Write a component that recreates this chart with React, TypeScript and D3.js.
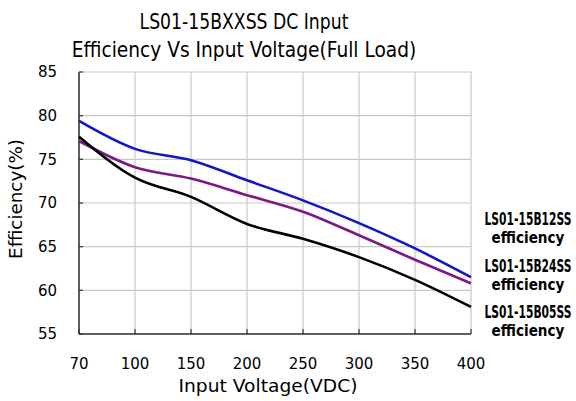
import React, { useEffect, useRef } from "react";
import * as d3 from "d3";

// x categories (equally spaced on the chart)
const voltages = ["70", "100", "150", "200", "250", "300", "350", "400"];
const yTicks = [55, 60, 65, 70, 75, 80, 85];

// efficiency (%)
const eff12 = [79.4, 76.2, 74.9, 72.6, 70.3, 67.7, 64.8, 61.5];
const eff24 = [77.1, 74.1, 72.8, 70.9, 69.0, 66.3, 63.5, 60.8];
const eff05 = [77.6, 72.9, 70.7, 67.6, 65.9, 63.8, 61.2, 58.1];

const seriesNames = ["LS01-15B12SS", "LS01-15B24SS", "LS01-15B05SS"];
const seriesColors = ["#1414c8", "#7a1a84", "#000000"];

const FONT = "'DejaVu Sans', sans-serif";

// put a centred text at (cx, cy) and squeeze it horizontally to the wanted width
function fitText(parent: any, str: string, cx: number, cy: number, width: number, size: number, rotate = 0, weight = "normal") {
  const gg = parent.append("g").attr("transform", `translate(${cx},${cy}) rotate(${rotate})`);
  const t = gg.append("text").attr("text-anchor", "middle")
    .attr("font-family", FONT).attr("font-size", size).attr("font-weight", weight).text(str);
  const len = (t.node() as SVGTextElement).getComputedTextLength() || width;
  t.attr("transform", `scale(${width / len},1)`);
  return t;
}

export default function App() {
  const ref = useRef<SVGSVGElement>(null);

  useEffect(() => {
    const svg = d3.select(ref.current);
    svg.selectAll("*").remove();

    const margin = { top: 72, left: 79, right: 105, bottom: 67 };
    const W = 576, H = 401;
    const w = W - margin.left - margin.right;
    const h = H - margin.top - margin.bottom;

    const x = d3.scalePoint<string>().domain(voltages).range([0, w]);
    const y = d3.scaleLinear().domain([55, 85]).range([h, 0]);

    const g = svg.append("g").attr("transform", `translate(${margin.left},${margin.top})`);

    // grid
    g.selectAll(".vgrid").data(voltages).join("line").attr("class", "vgrid")
      .attr("x1", d => x(d)!).attr("x2", d => x(d)!).attr("y1", 0).attr("y2", h)
      .attr("stroke", "#c8c8c8").attr("stroke-width", 1.2);
    g.selectAll(".hgrid").data(yTicks).join("line").attr("class", "hgrid")
      .attr("x1", 0).attr("x2", w).attr("y1", d => y(d)).attr("y2", d => y(d))
      .attr("stroke", "#c8c8c8").attr("stroke-width", 1.2);

    // axes
    g.append("line").attr("x1", 0).attr("x2", 0).attr("y1", 0).attr("y2", h)
      .attr("stroke", "#333").attr("stroke-width", 1.5);
    g.append("line").attr("x1", 0).attr("x2", w).attr("y1", h).attr("y2", h)
      .attr("stroke", "#333").attr("stroke-width", 1.5);
    g.selectAll(".ytick").data(yTicks).join("line").attr("class", "ytick")
      .attr("x1", 0).attr("x2", 4).attr("y1", d => y(d)).attr("y2", d => y(d))
      .attr("stroke", "#333").attr("stroke-width", 1.2);
    g.selectAll(".xtick").data(voltages).join("line").attr("class", "xtick")
      .attr("x1", d => x(d)!).attr("x2", d => x(d)!).attr("y1", h).attr("y2", h - 5)
      .attr("stroke", "#333").attr("stroke-width", 1.2);

    // tick labels
    g.selectAll(".ylab").data(yTicks).join("text").attr("class", "ylab")
      .attr("x", -22).attr("y", d => y(d)).attr("dy", "0.35em")
      .attr("text-anchor", "end").attr("font-family", FONT).attr("font-size", 15)
      .text(d => d);
    g.selectAll(".xlab").data(voltages).join("text").attr("class", "xlab")
      .attr("x", d => x(d)!).attr("y", h + 35)
      .attr("text-anchor", "middle").attr("font-family", FONT).attr("font-size", 15)
      .text(d => d);

    // lines
    const line = d3.line<number>()
      .x((_, i) => x(voltages[i])!)
      .y(d => y(d))
      .curve(d3.curveMonotoneX);
    [eff12, eff24, eff05].forEach((s, i) => {
      g.append("path").datum(s).attr("d", line).attr("fill", "none")
        .attr("stroke", seriesColors[i]).attr("stroke-width", 2.6)
        .attr("stroke-linejoin", "round");
    });

    // titles
    fitText(svg, "LS01-15BXXSS DC Input", 244, 29, 209, 21);
    fitText(svg, "Efficiency Vs Input Voltage(Full Load)", 244, 57, 345, 21);
    fitText(svg, "Input Voltage(VDC)", 268, 392, 179, 18);
    fitText(svg, "Efficiency(%)", 22, 199, 120, 17, -90);

    // legend
    const baseY = [225, 272, 318];
    seriesNames.forEach((n, i) => {
      fitText(svg, n, 528, baseY[i], 87, 17, 0, "bold");
      fitText(svg, "efficiency", 528, baseY[i] + 18, 73, 16, 0, "bold");
    });
  }, []);

  return (
    <svg ref={ref} width={576} height={401}
      style={{ position: "absolute", left: 0, top: 0, background: "#fff" }} />
  );
}
